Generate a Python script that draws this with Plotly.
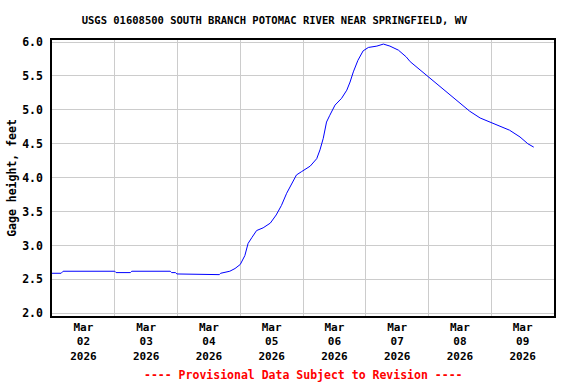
import plotly.graph_objects as go

times = [
    "2026-03-02 00:00", "2026-03-02 03:30", "2026-03-02 04:15", "2026-03-03 00:00",
    "2026-03-03 00:30", "2026-03-03 06:00", "2026-03-03 06:30", "2026-03-03 21:15",
    "2026-03-03 21:45", "2026-03-03 23:15", "2026-03-03 23:45", "2026-03-04 04:30",
    "2026-03-04 05:00", "2026-03-04 16:00", "2026-03-04 16:30", "2026-03-04 20:00",
    "2026-03-04 22:00", "2026-03-05 00:00", "2026-03-05 01:45", "2026-03-05 03:00",
    "2026-03-05 04:30", "2026-03-05 06:15", "2026-03-05 08:45", "2026-03-05 11:30",
    "2026-03-05 13:45", "2026-03-05 15:45", "2026-03-05 17:45", "2026-03-05 19:45",
    "2026-03-05 21:30", "2026-03-05 23:30", "2026-03-06 02:45", "2026-03-06 05:15",
    "2026-03-06 06:30", "2026-03-06 07:45", "2026-03-06 09:00", "2026-03-06 10:15",
    "2026-03-06 12:15", "2026-03-06 14:45", "2026-03-06 16:45", "2026-03-06 18:00",
    "2026-03-06 19:15", "2026-03-06 21:00", "2026-03-06 23:00", "2026-03-07 01:00",
    "2026-03-07 04:15", "2026-03-07 06:45", "2026-03-07 09:15", "2026-03-07 12:30",
    "2026-03-07 15:30", "2026-03-07 17:00", "2026-03-07 20:45", "2026-03-07 23:45",
    "2026-03-08 04:30", "2026-03-08 08:15", "2026-03-08 12:00", "2026-03-08 15:45",
    "2026-03-08 19:45", "2026-03-08 23:30", "2026-03-09 03:15", "2026-03-09 07:00",
    "2026-03-09 11:00", "2026-03-09 14:00", "2026-03-09 16:15",
]
gage_height = [
    2.59, 2.59, 2.62, 2.62,
    2.60, 2.60, 2.62, 2.62,
    2.60, 2.60, 2.58, 2.58,
    2.57, 2.57, 2.59, 2.62,
    2.66, 2.72, 2.85, 3.03,
    3.12, 3.22, 3.26, 3.33,
    3.45, 3.59, 3.77, 3.91,
    4.04, 4.09, 4.17, 4.28,
    4.41, 4.58, 4.82, 4.92,
    5.07, 5.17, 5.29, 5.41,
    5.56, 5.73, 5.87, 5.92,
    5.94, 5.97, 5.94, 5.88,
    5.78, 5.71, 5.59, 5.49,
    5.34, 5.22, 5.10, 4.98,
    4.88, 4.82, 4.77, 4.70,
    4.60, 4.50, 4.45,
]

title_text = "USGS 01608500 SOUTH BRANCH POTOMAC RIVER NEAR SPRINGFIELD, WV"
y_title = "Gage height, feet"
footer = "---- Provisional Data Subject to Revision ----"
x_range = ["2026-03-02 00:00", "2026-03-10 00:00"]
y_range = [1.96, 6.03]

FONT = "DejaVu Sans Mono"

fig = go.Figure()
fig.add_trace(go.Scatter(
    x=times, y=gage_height, mode="lines",
    line=dict(color="#0000FF", width=1),
    hoverinfo="skip", showlegend=False,
))

fig.update_layout(
    width=576, height=384,
    margin=dict(l=52, r=22, t=40, b=68, autoexpand=False),
    paper_bgcolor="white", plot_bgcolor="white",
    font=dict(family=FONT, size=11, color="black", weight="bold"),
    title=dict(text=title_text, x=274.5 / 576, xanchor="center",
               y=1 - 20 / 384, yanchor="middle", yref="container",
               font=dict(family=FONT, size=10.5, color="black", weight="bold")),
    xaxis=dict(
        type="date", range=x_range, automargin=False,
        tick0="2026-03-02", dtick=86400000,
        ticklabelmode="period", tickformat="%b<br>%d<br>%Y",
        showgrid=True, gridcolor="#cccccc", gridwidth=1,
        showline=True, linecolor="black", linewidth=1.5, mirror=True,
        ticks="", zeroline=False,
        tickfont=dict(family=FONT, size=11, color="black", weight="bold"),
    ),
    yaxis=dict(
        range=y_range, tick0=2.0, dtick=0.5, tickformat=".1f", automargin=False,
        showgrid=True, gridcolor="#cccccc", gridwidth=1,
        showline=True, linecolor="black", linewidth=1.5, mirror=True,
        ticks="outside", ticklen=5, tickcolor="rgba(0,0,0,0)", zeroline=False,
        tickfont=dict(family=FONT, size=11.5, color="black", weight="bold"),
        title=dict(text=y_title, standoff=3,
                   font=dict(family=FONT, size=11.5, color="black", weight="bold")),
    ),
    annotations=[dict(
        text=footer, xref="paper", yref="paper", x=0.5, y=(316 - 375) / 276,
        xanchor="center", yanchor="middle", showarrow=False,
        font=dict(family=FONT, size=11.5, color="red", weight="bold"),
    )],
)

fig.write_html(
    "out.html",
    config={"displayModeBar": False},
    post_script="document.body.style.margin='0';document.body.style.padding='0';",
)
